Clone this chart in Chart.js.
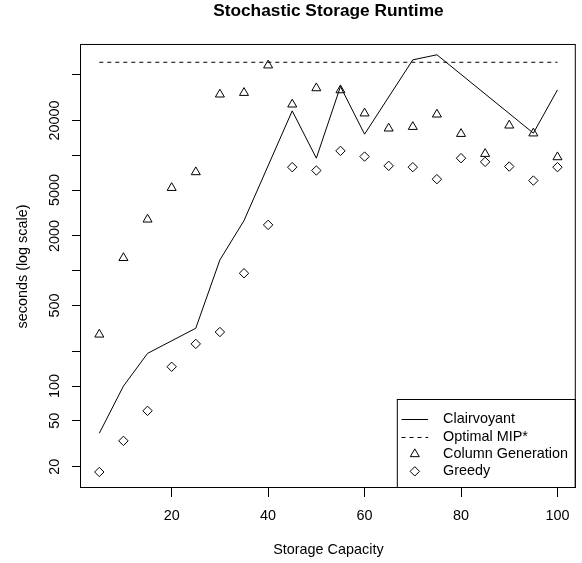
<!DOCTYPE html>
<html>
<head>
<meta charset="utf-8">
<script src="https://cdn.jsdelivr.net/npm/chart.js@4.4.0/dist/chart.umd.min.js"></script>
<style>
  html, body { margin: 0; padding: 0; background: #fff; }
</style>
</head>
<body>
<canvas id="runtime-chart" width="582" height="563"></canvas>
<script>
// Values (seconds, log scale)
const capacity = [5, 10, 15, 20, 25, 30, 35, 40, 45, 50, 55, 60, 65, 70, 75, 80, 85, 90, 95, 100];

// clairvoyant line only has vertices at these capacities
const clairvoyantCapacity = [5, 10, 15, 25, 30, 35, 45, 50, 55, 60, 70, 75, 95, 100];
const clairvoyantSeconds = [39, 100, 192, 317, 1240, 2717, 24270, 9440, 39450, 15240, 67150, 74300, 15560, 36900];

const optimalMipSeconds = 64000;

const columnGenSeconds = [280, 1290, 2780, 5220, 7150, 33700, 34800, 60200, 27600, 38200,
    36700, 23100, 17100, 17650, 22600, 15350, 10300, 18150, 15500, 9640];

const greedySeconds = [18, 33.5, 61, 147, 232, 294, 950, 2494, 7890, 7380,
    10920, 9750, 8100, 7890, 6210, 9440, 8770, 7990, 6040, 7890];

const xTicks = [20, 40, 60, 80, 100];
const yTicks = [20, 50, 100, 200, 500, 1000, 2000, 5000, 10000, 20000, 50000];
const yTickLabels = [20, 50, 100, 500, 2000, 5000, 20000];

const fontFamily = "'Liberation Sans', Arial, Helvetica, sans-serif";
Chart.defaults.font.family = fontFamily;
Chart.defaults.font.size = 14.4;
Chart.defaults.color = '#000';

function toPoints(xs, ys) {
    return xs.map((x, i) => ({ x: x, y: ys[i] }));
}

// plot box plus an R-style legend in the bottom right corner
const frameAndLegend = {
    id: 'frameAndLegend',
    afterDraw(chart) {
        const ctx = chart.ctx;
        const a = chart.chartArea;
        ctx.save();
        ctx.strokeStyle = '#000';
        ctx.lineWidth = 1;
        ctx.strokeRect(a.left - 0.5, a.top - 0.5, a.right - a.left, a.bottom - a.top);

        const boxW = 178, boxH = 88;
        const bx = a.right - boxW, by = a.bottom - boxH;
        ctx.strokeRect(bx - 0.5, by - 0.5, boxW, boxH);

        chart.data.datasets.forEach((ds, i) => {
            const y = by + 19.5 + i * 17.28;
            ctx.strokeStyle = '#000';
            ctx.lineWidth = 1;
            if (ds.showLine) {
                ctx.setLineDash(ds.borderDash || []);
                ctx.beginPath();
                ctx.moveTo(bx + 3.7, Math.round(y) + 0.5);
                ctx.lineTo(bx + 30.3, Math.round(y) + 0.5);
                ctx.stroke();
                ctx.setLineDash([]);
            } else {
                ctx.fillStyle = 'rgba(0,0,0,0)';
                Chart.helpers.drawPoint(ctx, {
                    pointStyle: ds.pointStyle,
                    radius: ds.pointRadius,
                    borderWidth: 1,
                    rotation: 0
                }, bx + 17, y);
            }
            ctx.fillStyle = '#000';
            ctx.font = '14.4px ' + fontFamily;
            ctx.textAlign = 'left';
            ctx.textBaseline = 'middle';
            ctx.fillText(ds.label, bx + 45.3, y);
        });
        ctx.restore();
    }
};

const tickGrid = {
    display: true,
    drawOnChartArea: false,
    drawTicks: true,
    tickLength: 9,
    color: '#000',
    lineWidth: 1
};

new Chart(document.getElementById('runtime-chart'), {
    type: 'scatter',
    data: {
        datasets: [
            {
                label: 'Clairvoyant',
                data: toPoints(clairvoyantCapacity, clairvoyantSeconds),
                showLine: true,
                borderColor: '#000',
                borderWidth: 1,
                pointRadius: 0
            },
            {
                label: 'Optimal MIP*',
                data: [
                    { x: capacity[0], y: optimalMipSeconds },
                    { x: capacity[capacity.length - 1], y: optimalMipSeconds }
                ],
                showLine: true,
                borderColor: '#000',
                borderWidth: 1,
                borderDash: [4, 4],
                pointRadius: 0
            },
            {
                label: 'Column Generation',
                data: toPoints(capacity, columnGenSeconds),
                showLine: false,
                pointStyle: 'triangle',
                pointRadius: 5.2,
                borderColor: '#000',
                backgroundColor: 'rgba(0,0,0,0)',
                borderWidth: 1
            },
            {
                label: 'Greedy',
                data: toPoints(capacity, greedySeconds),
                showLine: false,
                pointStyle: 'rectRot',
                pointRadius: 4.7,
                borderColor: '#000',
                backgroundColor: 'rgba(0,0,0,0)',
                borderWidth: 1
            }
        ]
    },
    options: {
        responsive: false,
        animation: false,
        events: [],
        layout: { padding: { left: 0, right: 6, top: 0, bottom: 0 } },
        plugins: {
            legend: { display: false },
            tooltip: { enabled: false },
            title: {
                display: true,
                text: 'Stochastic Storage Runtime',
                fullSize: false,
                color: '#000',
                font: { size: 17.3, weight: 'bold' },
                padding: { top: 1.3, bottom: 22.9 }
            }
        },
        scales: {
            x: {
                type: 'linear',
                min: 1.2,
                max: 103.8,
                afterBuildTicks: s => { s.ticks = xTicks.map(v => ({ value: v })); },
                afterFit: s => { s.height = 75; },
                grid: tickGrid,
                border: { display: false },
                ticks: { padding: 10.5, maxRotation: 0, autoSkip: false },
                title: {
                    display: true,
                    text: 'Storage Capacity',
                    padding: { top: 0, bottom: 4 }
                }
            },
            y: {
                type: 'logarithmic',
                min: 13.08,
                max: 90400,
                afterBuildTicks: s => { s.ticks = yTicks.map(v => ({ value: v })); },
                afterFit: s => { s.width = 81; },
                grid: tickGrid,
                border: { display: false },
                ticks: {
                    minRotation: 90,
                    maxRotation: 90,
                    crossAlign: 'center',
                    padding: -3,
                    autoSkip: false,
                    callback: v => yTickLabels.includes(v) ? String(v) : ''
                },
                title: {
                    display: true,
                    text: 'seconds (log scale)',
                    padding: { top: 13.9, bottom: 0 }
                }
            }
        }
    },
    plugins: [frameAndLegend]
});
</script>
</body>
</html>
